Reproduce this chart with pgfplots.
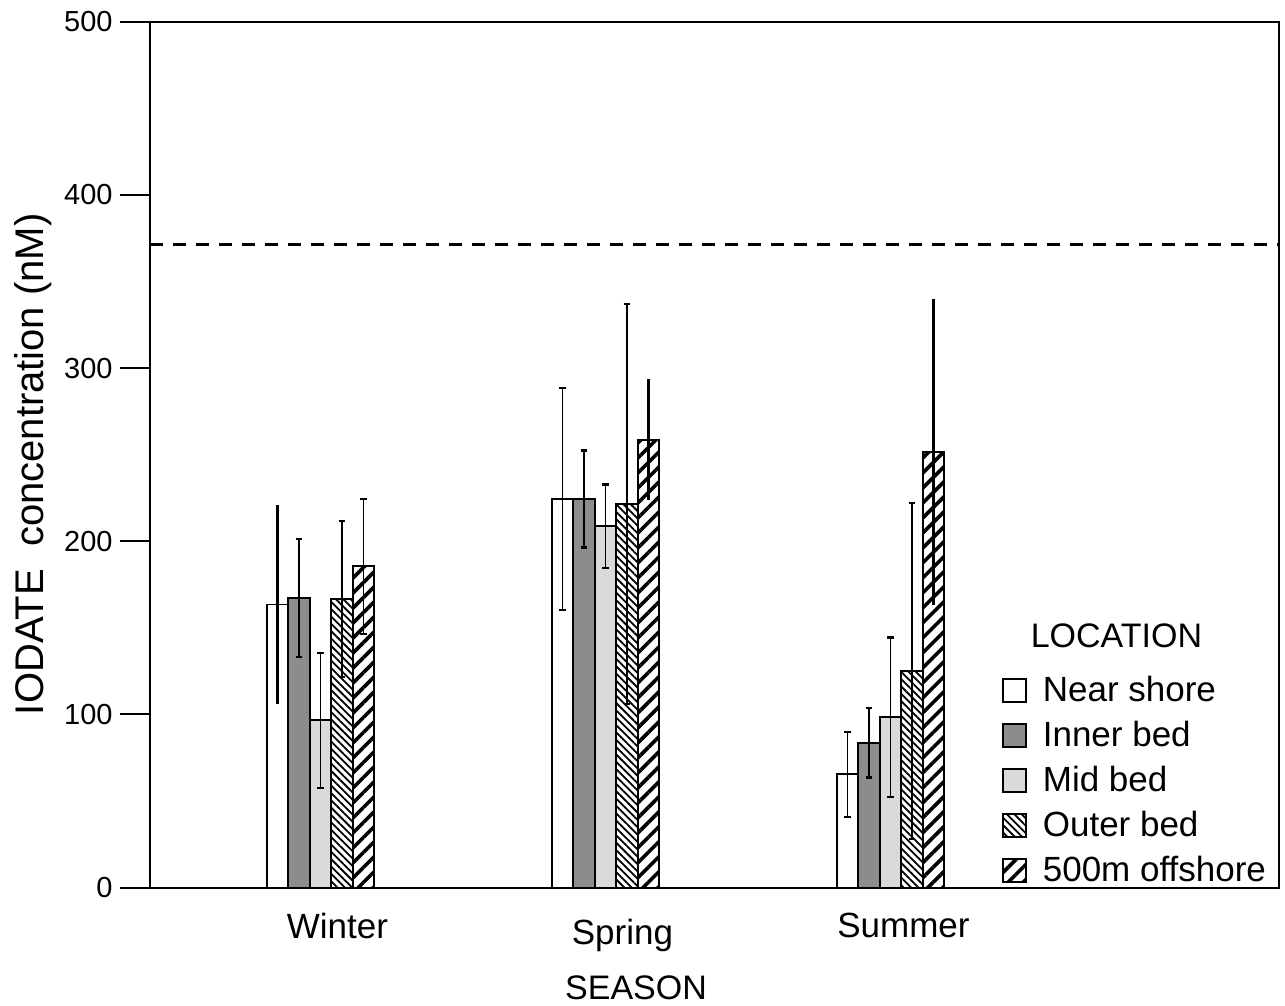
\documentclass[border=0pt]{standalone}
\usepackage{pgfplots}
\pgfplotsset{compat=1.18}
\usepackage{pgfplotstable}
\usepackage{fontspec}
\setmainfont{Liberation Sans}
\usetikzlibrary{patterns.meta}
\definecolor{innergray}{RGB}{140,140,140}
\definecolor{midgray}{RGB}{218,218,218}

% bar means per location (x: 0=Winter, 1=Spring, 2=Summer)
\pgfplotstableread{
x y
0 163.5
1 224.4
2 65.5
}\nearshore
\pgfplotstableread{
x y
0 167.3
1 224.4
2 83.6
}\innerbed
\pgfplotstableread{
x y
0 96.6
1 208.8
2 98.5
}\midbed
\pgfplotstableread{
x y
0 166.5
1 221.5
2 125.0
}\outerbed
\pgfplotstableread{
x y
0 185.6
1 258.6
2 251.5
}\offshore
% error bars (x = bar centre), thin ones with caps
\pgfplotstableread{
x y e
-0.0754 167.3 34
0.0000 96.6 39
0.0754 166.5 45
0.1509 185.6 39
0.8491 224.4 64
0.9246 224.4 28
1.0000 208.8 24
1.0754 221.5 115.5
1.8491 65.5 24.5
1.9246 83.6 20
2.0000 98.5 46
2.0754 125.0 97
}\errthin
% thick error bars, no caps
\pgfplotstableread{
x y e
-0.1509 163.5 57.5
1.1509 258.6 35
2.1509 251.5 88.5
}\errthick

\begin{document}
\begin{tikzpicture}
\useasboundingbox (-75pt,-59.15pt) rectangle (567.5pt,443.85pt);
\begin{axis}[
  at={(0,0)}, anchor=south west,
  scale only axis, width=564.5pt, height=433pt,
  xmin=-0.5982, xmax=3.3632, ymin=0, ymax=500,
  ytick={0,100,...,500},
  xtick={0.0596,1.0596,2.0456},
  xticklabels={Winter,{\raisebox{-3pt}[\height][\depth]{Spring}},Summer},
  tick align=outside,
  ytick pos=left,
  major tick length=15pt,
  xtick style={draw=none},
  ytick style={line width=1pt, black},
  axis line style={line width=1pt},
  yticklabel style={font=\fontsize{14.5}{16}\selectfont, inner sep=0pt, xshift=-3.5pt},
  xticklabel style={font=\fontsize{17.5}{20}\selectfont, inner sep=0pt, yshift=2.5pt},
  /pgf/number format/assume math mode=true,
  ylabel={IODATE\ \ concentration (nM)},
  ylabel style={font=\fontsize{20}{22}\selectfont, at={(axis description cs:-0.1035,0.489)}, anchor=center},
  xlabel={SEASON},
  xlabel style={font=\fontsize{17}{20}\selectfont, at={(axis description cs:0.4305,-0.1155)}, anchor=center},
  legend style={draw=none, fill=none, at={(0.7546,0.2543)}, anchor=north west, inner sep=0pt,
    font=\fontsize{17.5}{20}\selectfont, nodes={inner sep=0pt, minimum height=22.5pt}, column sep=8pt},
  legend cell align=left,
  legend image code/.code={\draw[#1, line width=0.75pt] (0pt,-5.75pt) rectangle (11.5pt,5.75pt);},
]
\addplot[ybar, bar width=10.75pt, bar shift=-21.5pt, fill=white, draw=black, line width=0.9pt] table[x=x,y=y] {\nearshore};
\addlegendentry{Near shore}
\addplot[ybar, bar width=10.75pt, bar shift=-10.75pt, fill=innergray, draw=black, line width=0.9pt] table[x=x,y=y] {\innerbed};
\addlegendentry{Inner bed}
\addplot[ybar, bar width=10.75pt, bar shift=0pt, fill=midgray, draw=black, line width=0.9pt] table[x=x,y=y] {\midbed};
\addlegendentry{Mid bed}
\addplot[ybar, bar width=10.75pt, bar shift=10.75pt, draw=black, line width=0.9pt,
  pattern={Lines[angle=-45,distance=2.6pt,line width=0.9pt]}, pattern color=black] table[x=x,y=y] {\outerbed};
\addlegendentry{Outer bed}
\addplot[ybar, bar width=10.75pt, bar shift=21.5pt, draw=black, line width=0.9pt,
  pattern={Lines[angle=45,distance=5.3pt,line width=1.8pt]}, pattern color=black] table[x=x,y=y] {\offshore};
\addlegendentry{500m offshore}

\addplot[forget plot, draw=none, mark=none,
  error bars/.cd, y dir=both, y explicit, error mark=|,
  error bar style={draw=black, line width=0.8pt},
  error mark options={draw=black, line width=1.1pt, mark size=1.7pt}]
  table[x=x, y=y, y error=e] {\errthin};
\addplot[forget plot, draw=none, mark=none,
  error bars/.cd, y dir=both, y explicit, error mark=none,
  error bar style={draw=black, line width=1.8pt}]
  table[x=x, y=y, y error=e] {\errthick};

\addplot[forget plot, black, line width=1.5pt, dash pattern=on 6.5pt off 5pt]
  coordinates {(-0.5982,371.5) (3.3632,371.5)};

\node[font=\fontsize{17}{20}\selectfont, anchor=center] at (rel axis cs:0.856,0.2906) {LOCATION};
\end{axis}
\end{tikzpicture}
\end{document}
